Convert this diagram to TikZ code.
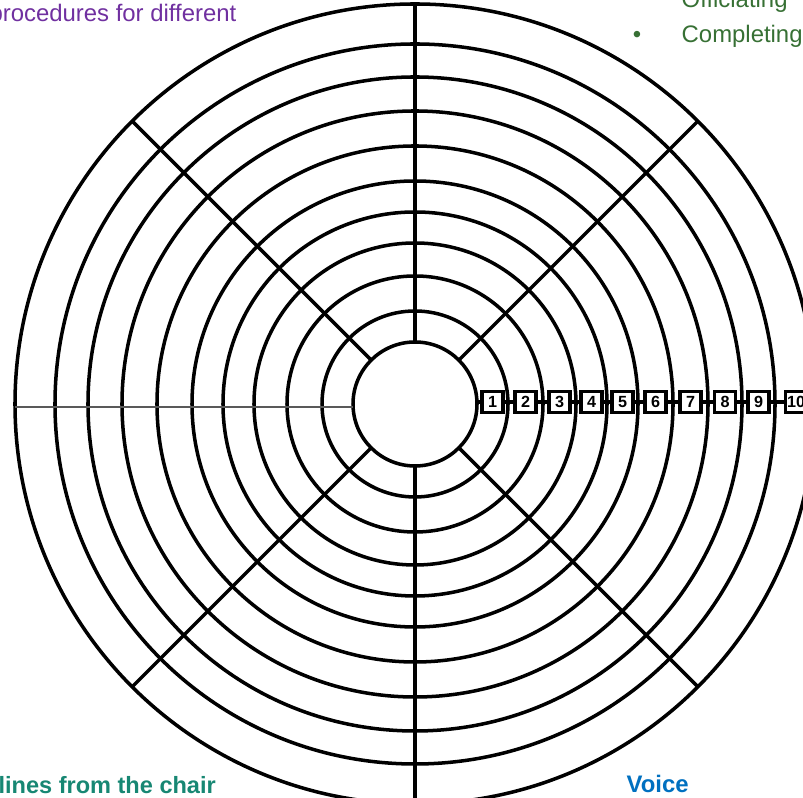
\documentclass[tikz,border=0pt]{standalone}
\usepackage{fontspec}
\setmainfont{Liberation Sans}
\definecolor{procpurple}{RGB}{112,48,160}
\definecolor{listgreen}{RGB}{55,112,52}
\definecolor{chairteal}{RGB}{23,135,115}
\definecolor{voiceblue}{RGB}{0,112,192}

\begin{document}
\begin{tikzpicture}[
    ring/.style={line width=1pt},
    numbox/.style={draw, line width=0.9pt, fill=white, minimum size=0.21cm,
      inner sep=0.2pt, font=\fontsize{4.6}{5}\selectfont\bfseries},
    label/.style={inner sep=0pt, font=\fontsize{6.8}{8}\selectfont},
  ]
    \useasboundingbox (-4.15,-3.94) rectangle (3.88,4.04);
    \clip (-4.15,-3.94) rectangle (3.88,4.04);
    % rings
    \draw[ring] (0,0) circle (0.62);
    \foreach \r in {0.93,1.28,1.61,1.92,2.23,2.58,2.93,3.27,3.60,4.00}
      \draw[ring] (0,0) circle (\r);
    % spokes
    \draw[ring] (0,0.62) -- (0,4);
    \draw[ring] (0,-0.62) -- (0,-4);
    \foreach \a in {45,135,225,315}
      \draw[ring] (\a:0.62) -- (\a:4);
    \draw[black!65, line width=0.7pt] (-4,-0.03) -- (-0.62,-0.03);
    % numbered boxes
    \coordinate (hubE) at (0.62,0.02);
    \foreach \i/\x in {1/0.775,2/1.105,3/1.445,4/1.765,5/2.075,
                       6/2.405,7/2.755,8/3.10,9/3.435,10/3.81}
      \node[numbox] (b\i) at (\x,0.02) {\i};
    \draw[line width=0.9pt] (hubE) -- (b1);
    \foreach \i [evaluate=\i as \j using int(\i+1)] in {1,...,9}
      \draw[line width=0.9pt] (b\i) -- (b\j);
    % texts
    \node[label, text=procpurple, anchor=base east] (proc) at (-1.78,3.82) {procedures for different};
    \node[label, text=listgreen, anchor=base west] (offi) at (2.66,3.96) {Officiating};
    \node[label, text=listgreen, anchor=base] (dot) at (2.22,3.61) {•};
    \node[label, text=listgreen, anchor=base west] (comp) at (2.66,3.61) {Completing};
    \node[label, text=chairteal, anchor=base east, font=\fontsize{6.7}{8}\selectfont\bfseries] (chair) at (-1.985,-3.90) {lines from the chair};
    \node[label, text=voiceblue, anchor=base west, font=\fontsize{6.8}{8}\selectfont\bfseries] (voice) at (2.11,-3.89) {Voice};
\end{tikzpicture}
\end{document}
